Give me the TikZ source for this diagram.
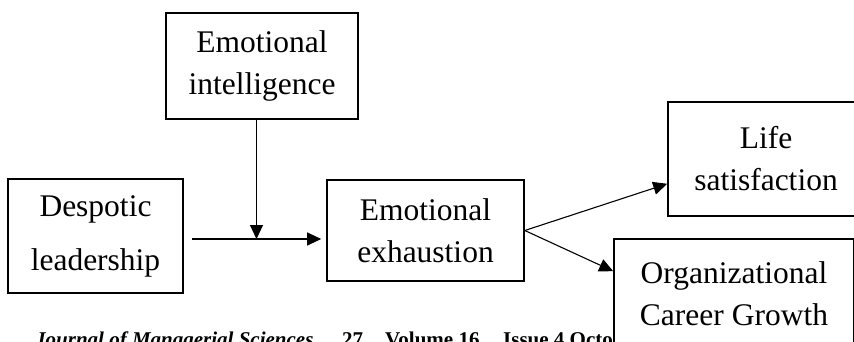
\documentclass[tikz,border=0pt]{standalone}
\usepackage{fontspec}
\setmainfont{Liberation Serif}
\usetikzlibrary{arrows.meta}

\begin{document}
\begin{tikzpicture}
[x=1pt,y=-1pt,%
  box/.style={draw,line width=1.6pt,align=center,inner sep=0pt,%
    font=\fontsize{31.5}{42}\selectfont},%
  arr/.style={-{Triangle[length=14pt,width=13pt]},line width=1.1pt},%
  foot/.style={inner sep=0pt,anchor=base west,%
    font=\fontsize{21}{24}\selectfont\bfseries}]
\useasboundingbox (0,0) rectangle (854,342);
\clip (0,0) rectangle (854,342);
% page footer, cut by the lower box
\node[foot] (jour) at (35,346) {\itshape Journal of Managerial Sciences};
\node[foot] (page) at (342,346) {27};
\node[foot] (vol) at (385,346) {Volume 16};
\node[foot] (iss) at (503,346) {Issue 4 Octo};
% boxes
\node[box,minimum width=192pt,minimum height=106pt] (intel) at (262,66)
  {Emotional\\intelligence};
\node[box,minimum width=175pt,minimum height=114pt,%
  font=\fontsize{31.5}{54}\selectfont] (desp) at (95.5,236)
  {Despotic\\leadership};
\node[box,minimum width=197pt,minimum height=101pt] (exh) at (425.5,230.5)
  {Emotional\\exhaustion};
\node[box,minimum width=196pt,minimum height=114pt] (life) at (766,159)
  {Life\\satisfaction};
\node[box,fill=white,minimum width=240pt,minimum height=110pt] (org) at (734,294)
  {Organizational\\Career Growth};
% arrows
\coordinate (join) at (256.5,239);
\coordinate (from) at (192,239);
\draw[arr] (join |- intel.south) -- (join);
\draw[arr,shorten >=5pt] (from) -- (exh.west |- from);
\draw[arr] (exh.east) -- ([yshift=33pt]life.south west);
\draw[arr] (exh.east) -- ([yshift=-33pt]org.north west);
\end{tikzpicture}
\end{document}
